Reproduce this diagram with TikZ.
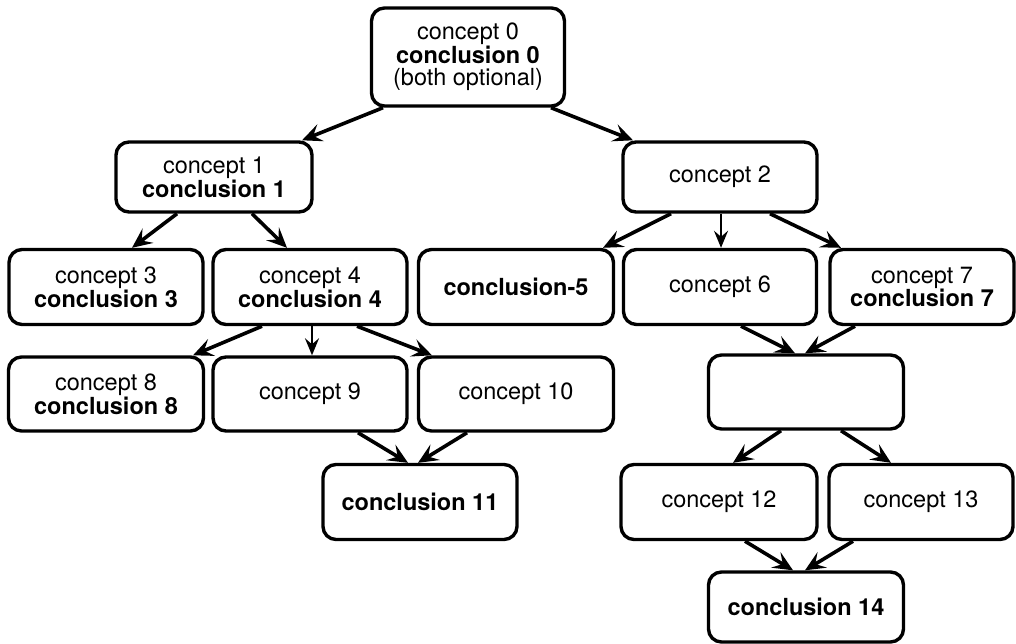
\documentclass[tikz,border=0pt]{standalone}
\usepackage{fontspec}
\setmainfont{TeX Gyre Heros}
\usetikzlibrary{arrows.meta}
\begin{document}
\begin{tikzpicture}[x=1pt,y=-1pt,
  box/.style={draw, line width=3.4pt, rounded corners=13pt, inner sep=0pt,
    align=center, font=\fontsize{23.5}{22.5}\selectfont},
  arr/.style={line width=3.6pt, -{Stealth[length=20pt,width=18pt,inset=8pt]}},
  thinarr/.style={line width=2.4pt, -{Stealth[length=17pt,width=14pt,inset=6pt]}}]
\useasboundingbox (0,0) rectangle (1016,644);
\node[box, minimum width=193pt, minimum height=98pt] (n0) at (468,57) {concept 0\\\textbf{conclusion 0}\\(both optional)};
\node[box, minimum width=196pt, minimum height=70pt] (n1) at (214,177) {concept 1\\\textbf{conclusion 1}};
\node[box, minimum width=194pt, minimum height=70pt] (n2) at (720,177) {concept 2};
\node[box, minimum width=194pt, minimum height=75pt] (n3) at (106,287) {concept 3\\\textbf{conclusion 3}};
\node[box, minimum width=194pt, minimum height=75pt] (n4) at (310,287) {concept 4\\\textbf{conclusion 4}};
\node[box, minimum width=195pt, minimum height=75pt] (n5) at (516,287) {\textbf{conclusion-5}};
\node[box, minimum width=193pt, minimum height=75pt] (n6) at (720,287) {concept 6};
\node[box, minimum width=184pt, minimum height=75pt] (n7) at (922,287) {concept 7\\\textbf{conclusion 7}};
\node[box, minimum width=195pt, minimum height=74pt] (n8) at (106,394) {concept 8\\\textbf{conclusion 8}};
\node[box, minimum width=194pt, minimum height=74pt] (n9) at (310,394) {concept 9};
\node[box, minimum width=195pt, minimum height=74pt] (n10) at (516,394) {concept 10};
\node[box, minimum width=195pt, minimum height=74pt] (nb) at (806,392) {};
\node[box, minimum width=194pt, minimum height=75pt] (n11) at (420,502) {\textbf{conclusion 11}};
\node[box, minimum width=196pt, minimum height=75pt] (n12) at (719,502) {concept 12};
\node[box, minimum width=184pt, minimum height=75pt] (n13) at (921,502) {concept 13};
\node[box, minimum width=195pt, minimum height=70pt] (n14) at (806,607) {\textbf{conclusion 14}};
\draw[arr] ([xshift=-85]n0.south) -- ([xshift=88]n1.north);
\draw[arr] ([xshift=83]n0.south) -- ([xshift=-87]n2.north);
\draw[arr] ([xshift=-37]n1.south) -- ([xshift=26]n3.north);
\draw[arr] ([xshift=38]n1.south) -- ([xshift=-23]n4.north);
\draw[arr] ([xshift=-49]n2.south) -- ([xshift=87]n5.north);
\draw[thinarr] ([xshift=1]n2.south) -- ([xshift=1]n6.north);
\draw[arr] ([xshift=50]n2.south) -- ([xshift=-81]n7.north);
\draw[arr] ([xshift=-48]n4.south) -- ([xshift=87]n8.north);
\draw[thinarr] ([xshift=2]n4.south) -- ([xshift=2]n9.north);
\draw[arr] ([xshift=47]n4.south) -- ([xshift=-84]n10.north);
\draw[arr] ([xshift=48]n9.south) -- ([xshift=-12]n11.north);
\draw[arr] ([xshift=-49]n10.south) -- ([xshift=-2]n11.north);
\draw[arr] ([xshift=21]n6.south) -- ([xshift=-11]nb.north);
\draw[arr] ([xshift=-67]n7.south) -- ([xshift=-1]nb.north);
\draw[arr] ([xshift=-25]nb.south) -- ([xshift=14]n12.north);
\draw[arr] ([xshift=35]nb.south) -- ([xshift=-30]n13.north);
\draw[arr] ([xshift=26]n12.south) -- ([xshift=-13]n14.north);
\draw[arr] ([xshift=-68]n13.south) -- ([xshift=-1]n14.north);
\end{tikzpicture}
\end{document}
